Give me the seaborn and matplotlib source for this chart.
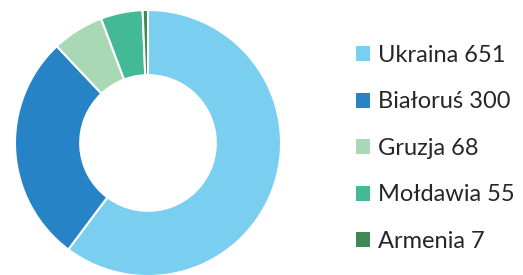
import matplotlib
matplotlib.use('Agg')
import matplotlib.pyplot as plt
import seaborn as sns
from matplotlib.patches import Patch

countries = ['Ukraina', 'Białoruś', 'Gruzja', 'Mołdawia', 'Armenia']
values = [651, 300, 68, 55, 7]
colors = ['#7ACEEF', '#2683C6', '#A8D8B4', '#43B995', '#3E8853']

sns.set_theme(style='white')
plt.rcParams['font.family'] = ['Lato', 'DejaVu Sans']

fig = plt.figure(figsize=(5.23, 2.75), dpi=100)
# pie centered at about (148, 143) px, radius 133 px
ax = fig.add_axes([15 / 523, (275 - 143 - 133) / 275, 266 / 523, 266 / 275])
ax.pie(values, colors=colors, startangle=90, counterclock=False,
       wedgeprops=dict(width=0.49, edgecolor='white', linewidth=1.5))
ax.set_xlim(-1, 1)
ax.set_ylim(-1, 1)
ax.set_aspect('equal')
ax.axis('off')

handles = [Patch(facecolor=c, edgecolor='none') for c in colors]
labels = [f'{n} {v}' for n, v in zip(countries, values)]
fig.legend(handles, labels, loc='upper left', bbox_to_anchor=(356 / 523, 1 - 45 / 275),
           frameon=False, fontsize=17, handlelength=0.6, handleheight=0.6,
           handletextpad=0.35, labelspacing=1.08, borderaxespad=0, borderpad=0)

fig.savefig('out.png', dpi=100, facecolor='white')
